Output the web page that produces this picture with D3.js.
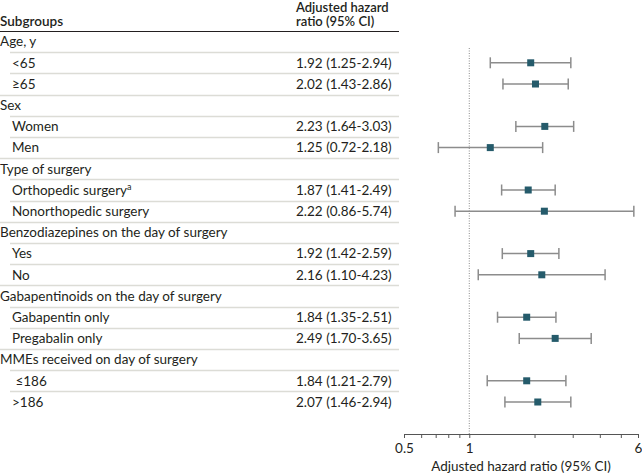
<!DOCTYPE html>
<html><head><meta charset="utf-8">
<script src="https://cdn.jsdelivr.net/npm/d3@7"></script>
<style>body{margin:0;background:#fff}text{font-family:Lato,"Open Sans",sans-serif}</style>
</head><body><svg id="c" width="642" height="475"></svg>
<script>
const labels = ["Age, y","<65","≥65","Sex","Women","Men","Type of surgery","Orthopedic surgery","Nonorthopedic surgery","Benzodiazepines on the day of surgery","Yes","No","Gabapentinoids on the day of surgery","Gabapentin only","Pregabalin only","MMEs received on day of surgery"," ≤186",">186"];
const isHeader = [1,0,0,1,0,0,1,0,0,1,0,0,1,0,0,1,0,0];
const hr =    [null,1.92,2.02,null,2.23,1.25,null,1.87,2.22,null,1.92,2.16,null,1.84,2.49,null,1.84,2.07];
const lower = [null,1.25,1.43,null,1.64,0.72,null,1.41,0.86,null,1.42,1.10,null,1.35,1.70,null,1.21,1.46];
const upper = [null,2.94,2.86,null,3.03,2.18,null,2.49,5.74,null,2.59,4.23,null,2.51,3.65,null,2.79,2.94];
const ciText = [null,"1.92 (1.25-2.94)","2.02 (1.43-2.86)",null,"2.23 (1.64-3.03)","1.25 (0.72-2.18)",null,"1.87 (1.41-2.49)","2.22 (0.86-5.74)",null,"1.92 (1.42-2.59)","2.16 (1.10-4.23)",null,"1.84 (1.35-2.51)","2.49 (1.70-3.65)",null,"1.84 (1.21-2.79)","2.07 (1.46-2.94)"];
const superscripts = [null,null,null,null,null,null,null,"a",null,null,null,null,null,null,null,null,null,null];
const tickValues = [0.5,0.6,0.7,0.8,0.9,1,2,3,4,5,6];
const tickLabels = {0.5:"0.5",1:"1",6:"6"};

const svg = d3.select("#c");
const txt = "#231f20";
const fs = 13.5;
const top0 = 31, rowH = 21.2;
const colX = 296;
const x = d3.scaleLog().domain([0.5,6]).range([404,638]);
const y = i => top0 + rowH*i + rowH/2;

// header
svg.append("text").attr("x",0).attr("y",26).attr("font-size",fs).attr("font-weight",600).attr("fill",txt).text("Subgroups");
svg.append("text").attr("x",colX).attr("y",11.5).attr("font-size",13).attr("font-weight",600).attr("fill",txt).text("Adjusted hazard");
svg.append("text").attr("x",colX).attr("y",26).attr("font-size",13).attr("font-weight",600).attr("fill",txt).text("ratio (95% CI)");
svg.append("line").attr("x1",0).attr("x2",399).attr("y1",31.5).attr("y2",31.5).attr("stroke","#231f20").attr("stroke-width",1.2);

// separators
for (let i=0;i<labels.length-1;i++){
  const yy = Math.round(top0 + rowH*(i+1)) + 0.5;
  svg.append("line").attr("x1", isHeader[i+1]?0:10).attr("x2",399).attr("y1",yy).attr("y2",yy)
    .attr("stroke","#dcdcd6").attr("stroke-width",1.3);
}

// labels
labels.forEach((l,i)=>{
  const t = svg.append("text").attr("x", isHeader[i]?0:12).attr("y", y(i)+4.8).attr("font-size",fs).attr("fill",txt).attr("xml:space","preserve").text(l);
  if (superscripts[i]) t.append("tspan").attr("font-size",9).attr("dy",-5).text(superscripts[i]);
  if (ciText[i]) svg.append("text").attr("x",colX).attr("y",y(i)+4.8).attr("font-size",fs).attr("fill",txt).text(ciText[i]);
});

// reference line
svg.append("line").attr("x1",x(1)).attr("x2",x(1)).attr("y1",48).attr("y2",434)
  .attr("stroke","#8a8a8a").attr("stroke-width",1).attr("stroke-dasharray","1,1.5");

// axis
const axis = d3.axisBottom(x).tickValues(tickValues).tickSize(4).tickSizeOuter(0)
  .tickFormat(d => tickLabels[d] || "");
const g = svg.append("g").attr("transform","translate(0,434)").call(axis);
g.select(".domain").attr("stroke","#555");
g.selectAll(".tick line").attr("stroke","#555");
g.selectAll(".tick text").attr("font-size",fs).attr("fill",txt).attr("font-family","Lato").attr("dy","0.9em");
svg.append("text").attr("x",521).attr("y",471).attr("text-anchor","middle").attr("font-size",fs).attr("fill",txt).text("Adjusted hazard ratio (95% CI)");

// CIs
const rows = hr.map((v,i)=>({v,lo:lower[i],hi:upper[i],i})).filter(d=>d.v!=null);
const ci = svg.append("g");
rows.forEach(d=>{
  ci.append("line").attr("x1",x(d.lo)).attr("x2",x(d.hi)).attr("y1",y(d.i)).attr("y2",y(d.i)).attr("stroke","#8c8c8c").attr("stroke-width",1.5);
  [d.lo,d.hi].forEach(e=>ci.append("line").attr("x1",x(e)).attr("x2",x(e)).attr("y1",y(d.i)-5.5).attr("y2",y(d.i)+5.5).attr("stroke","#8c8c8c").attr("stroke-width",1.5));
  ci.append("rect").attr("x",x(d.v)-3.5).attr("y",y(d.i)-3.5).attr("width",7).attr("height",7).attr("fill","#255b6b");
});
</script></body></html>
